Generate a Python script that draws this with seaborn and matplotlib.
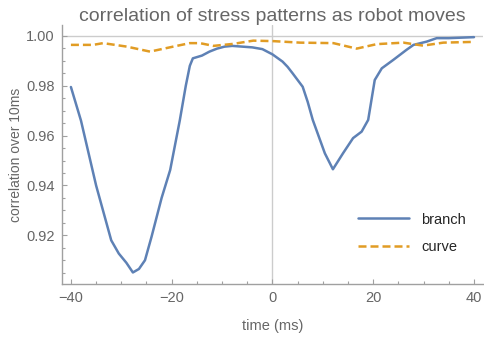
import matplotlib
matplotlib.use("Agg")
import matplotlib.pyplot as plt
import matplotlib.ticker as mticker
import pandas as pd
import seaborn as sns

# values
BRANCH_T = [-40, -38, -35, -32, -30.5, -29, -27.7, -26.5, -25.3, -24, -22, -20.3, -18.4,
            -17.2, -16.4, -15.8, -14, -12.5, -11, -9.5, -8, -6, -4, -2, 0, 2, 3, 4, 6, 7,
            8, 10.4, 12, 14, 16, 17.7, 19, 20.3, 21.7, 24, 26.6, 28, 30.6, 32.6, 35, 40]
BRANCH_R = [0.9795, 0.966, 0.940, 0.918, 0.9127, 0.909, 0.9051, 0.9065, 0.910, 0.9194,
            0.935, 0.9462, 0.966, 0.980, 0.988, 0.991, 0.9921, 0.9937, 0.9949, 0.9957,
            0.996, 0.9957, 0.9954, 0.9947, 0.9926, 0.9897, 0.9876, 0.985, 0.9796, 0.9735,
            0.9663, 0.9529, 0.9465, 0.9529, 0.959, 0.9616, 0.9663, 0.9823, 0.987, 0.9904,
            0.9944, 0.9964, 0.9977, 0.9991, 0.9991, 0.9995]

CURVE_T = [-40, -35.6, -33.6, -28.9, -24.3, -19.7, -16.4, -14.4, -11.7, -7.8, -3.8, 0.2,
           5.5, 12.1, 16.7, 20.7, 26.0, 29.9, 33.9, 40]
CURVE_R = [0.9964, 0.9964, 0.9971, 0.9957, 0.9937, 0.9957, 0.9971, 0.9971, 0.996, 0.9968,
           0.9981, 0.9979, 0.9973, 0.9971, 0.9949, 0.9967, 0.9973, 0.9961, 0.9973, 0.9976]

BLUE = "#5E81B5"
ORANGE = "#E19C24"
TEXT_GRAY = "#666666"
AXIS_GRAY = "#a0a0a0"

sns.set_style("ticks")
plt.rcParams["font.family"] = ["Liberation Sans", "DejaVu Sans"]

branch = pd.DataFrame({"time": BRANCH_T, "corr": BRANCH_R})
curve = pd.DataFrame({"time": CURVE_T, "corr": CURVE_R})

fig = plt.figure(figsize=(4.85, 3.37), dpi=100)
ax = fig.add_axes([0.127, 0.156, 0.869, 0.770])

# Mathematica style axes through (0, 1)
ax.axhline(1.0, color="#cccccc", linewidth=1.0, zorder=0)
ax.axvline(0.0, color="#cccccc", linewidth=1.0, zorder=0)

sns.lineplot(data=branch, x="time", y="corr", ax=ax, color=BLUE, linewidth=1.8,
             label="branch", sort=False)
sns.lineplot(data=curve, x="time", y="corr", ax=ax, color=ORANGE, linewidth=1.8,
             linestyle=(0, (3.2, 1.6)), label="curve", sort=False)

ax.set_xlim(-41.85, 41.8)
ax.set_ylim(0.9003, 1.0044)

ax.xaxis.set_major_locator(mticker.MultipleLocator(20))
ax.xaxis.set_minor_locator(mticker.MultipleLocator(5))
ax.yaxis.set_major_locator(mticker.FixedLocator([0.92, 0.94, 0.96, 0.98, 1.00]))
ax.yaxis.set_minor_locator(mticker.MultipleLocator(0.005))
ax.xaxis.set_major_formatter(mticker.FuncFormatter(lambda v, _: f"{int(v)}".replace("-", "\u2212")))
ax.yaxis.set_major_formatter(mticker.FormatStrFormatter("%.2f"))

ax.tick_params(which="both", direction="in", colors=AXIS_GRAY, labelcolor=TEXT_GRAY,
               labelsize=10.5, width=0.8)
ax.tick_params(which="major", length=3.5, pad=5)
ax.tick_params(which="minor", length=2)

sns.despine(ax=ax)
for side in ["left", "bottom"]:
    ax.spines[side].set_color(AXIS_GRAY)
    ax.spines[side].set_linewidth(1.0)

ax.set_xlabel("time (ms)", color=TEXT_GRAY, fontsize=10.5, labelpad=10)
ax.set_ylabel("correlation over 10ms", color=TEXT_GRAY, fontsize=10, labelpad=2)
ax.set_title("correlation of stress patterns as robot moves", color=TEXT_GRAY,
             fontsize=14, pad=3)

leg = ax.legend(loc="lower right", bbox_to_anchor=(0.99, 0.065), frameon=False,
                fontsize=10.5, handlelength=3.5, labelspacing=0.95)

fig.savefig("out.png", dpi=100)
